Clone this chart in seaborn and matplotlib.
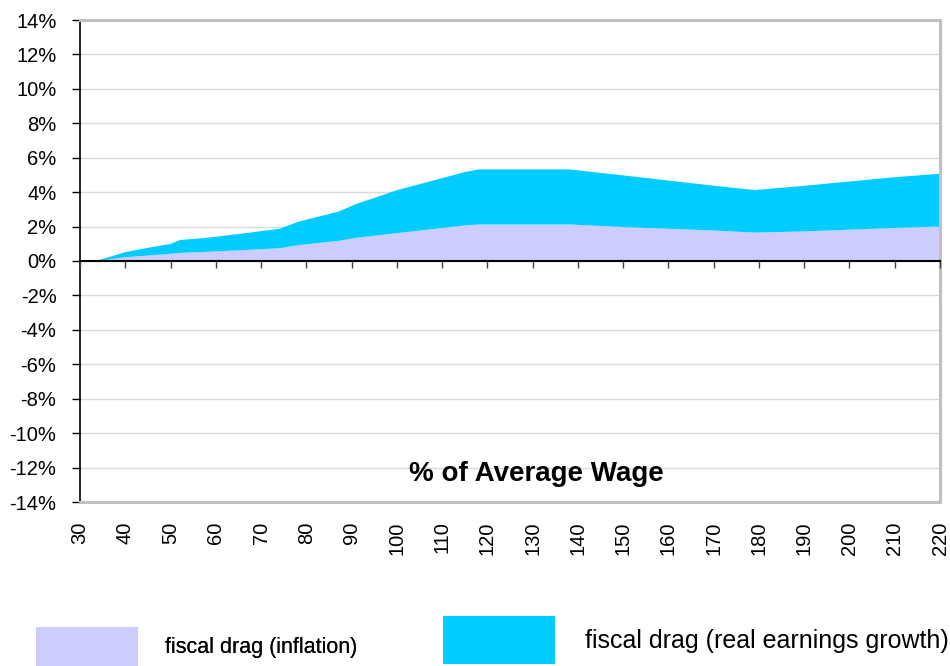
import matplotlib
matplotlib.use("Agg")
import matplotlib.pyplot as plt
import seaborn as sns
import numpy as np
import pandas as pd
from matplotlib.ticker import FuncFormatter

# Earnings level as % of average wage
wage_pct = [33, 40, 45, 50, 52, 57, 65, 74, 78, 87, 91, 95, 100, 105, 110,
            115, 118, 138, 150, 160, 170, 179, 190, 200, 210, 220]
# Fiscal drag components (% of earnings)
drag_inflation = [0.00, 0.25, 0.35, 0.45, 0.50, 0.55, 0.65, 0.77, 0.95, 1.20,
                  1.38, 1.50, 1.65, 1.80, 1.95, 2.10, 2.15, 2.15, 2.00, 1.90,
                  1.80, 1.68, 1.75, 1.85, 1.95, 2.03]
drag_real_growth = [0.00, 0.30, 0.45, 0.58, 0.75, 0.80, 0.95, 1.13, 1.35, 1.70,
                    1.97, 2.20, 2.50, 2.70, 2.90, 3.10, 3.20, 3.20, 3.00, 2.80,
                    2.60, 2.47, 2.65, 2.80, 2.95, 3.07]

series_labels = ["fiscal drag (inflation)", "fiscal drag (real earnings growth)"]
series_colors = ["#CCCCFF", "#00CCFF"]
x_ticks = list(range(30, 221, 10))
y_ticks = list(range(-14, 15, 2))

df = pd.DataFrame({"wage": wage_pct,
                   "inflation": drag_inflation,
                   "real": drag_real_growth})

sns.set_theme(style="white")
plt.rcParams["font.family"] = ["Liberation Sans", "DejaVu Sans"]
plt.rcParams["text.color"] = "black"
plt.rcParams["xtick.color"] = "black"
plt.rcParams["ytick.color"] = "black"

fig = plt.figure(figsize=(9.5, 6.66), dpi=100)
ax = fig.add_axes([80 / 950, 1 - 502 / 666, 860 / 950, 482 / 666])

polys = ax.stackplot(df["wage"], df["inflation"], df["real"],
                     colors=series_colors, labels=series_labels, linewidth=0)

ax.set_xlim(30, 220)
ax.set_ylim(-14, 14)
ax.set_yticks(y_ticks)
ax.yaxis.set_major_formatter(FuncFormatter(lambda v, _: f"{v:.0f}%"))
ax.set_xticks(x_ticks)
ax.set_xticklabels([str(t) for t in x_ticks], rotation=90, fontsize=14.5)
ax.tick_params(axis="x", length=0, pad=14)
ax.tick_params(axis="y", direction="out", length=6, width=1, color="black",
               labelsize=14.5, pad=11, left=True)

ax.grid(axis="y", color="#d9d9d9", linewidth=1)
ax.set_axisbelow(True)

for side in ["top", "right", "bottom"]:
    ax.spines[side].set_color("#c0c0c0")
    ax.spines[side].set_linewidth(2.2)
ax.spines["left"].set_color("black")
ax.spines["left"].set_linewidth(1.2)

# Category axis crossing at zero, ticks hanging below the line
zero_axis = ax.secondary_xaxis(0.5)
zero_axis.set_zorder(5)
zero_axis.set_xticks(x_ticks)
zero_axis.tick_params(axis="x", direction="in", length=5, width=1,
                      color="#444444", labelbottom=False, labeltop=False)
for side in ["top", "bottom"]:
    zero_axis.spines[side].set_color("black")
    zero_axis.spines[side].set_linewidth(1.5)

ax.text(0.531, 0.058, "% of Average Wage", transform=ax.transAxes,
        ha="center", va="center", fontsize=20, fontweight="bold")

# Legend entries placed separately along the bottom edge
leg1 = fig.legend(handles=[polys[0]], labels=[series_labels[0]],
                  loc="lower left", bbox_to_anchor=(36 / 950, 0.0),
                  frameon=False, fontsize=15.5, borderpad=0, borderaxespad=0,
                  handlelength=4.74, handleheight=2.41, handletextpad=1.25)
leg2 = fig.legend(handles=[polys[1]], labels=[series_labels[1]],
                  loc="lower left", bbox_to_anchor=(443 / 950, 2 / 666),
                  frameon=False, fontsize=18, borderpad=0, borderaxespad=0,
                  handlelength=4.48, handleheight=2.58, handletextpad=1.2)
fig.add_artist(leg1)

fig.savefig("out.png", dpi=100)
